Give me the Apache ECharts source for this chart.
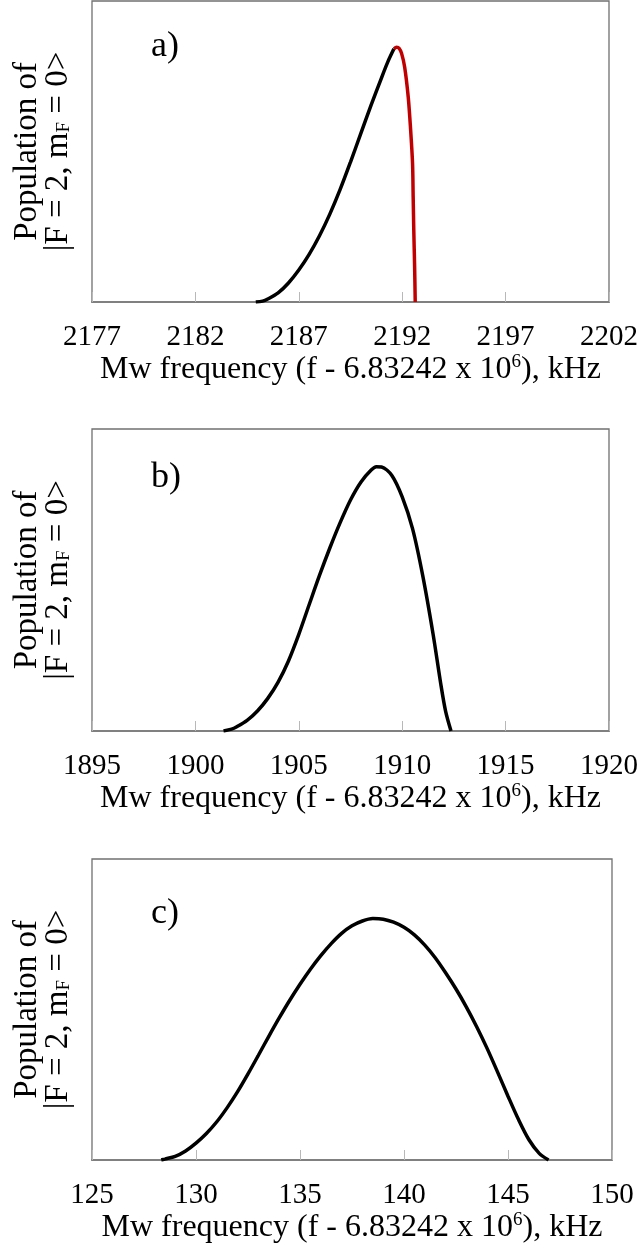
<!DOCTYPE html>
<html>
<head>
<meta charset="utf-8">
<script src="https://cdn.jsdelivr.net/npm/echarts@6/dist/echarts.min.js"></script>
<style>
html,body{margin:0;padding:0;background:#fff;}
#chart{width:641px;height:1253px;}
</style>
</head>
<body>
<div id="chart"></div>
<script>
// ---- Data ----
const panelLabels = ['a)', 'b)', 'c)'];

const ticksA = [2177, 2182, 2187, 2192, 2197, 2202];
const ticksB = [1895, 1900, 1905, 1910, 1915, 1920];
const ticksC = [125, 130, 135, 140, 145, 150];

// Panel a: rising part (black)
const freqA_rise = [2184.92, 2185.25, 2185.5, 2186, 2186.5, 2187, 2187.5, 2188, 2188.5, 2189, 2189.5, 2190, 2190.5, 2191, 2191.3, 2191.6];
const popA_rise  = [0, 0.003, 0.010, 0.030, 0.063, 0.106, 0.158, 0.220, 0.292, 0.374, 0.465, 0.560, 0.655, 0.745, 0.797, 0.841];
// Panel a: falling part (red)
const freqA_fall = [2191.60, 2191.73, 2191.85, 2191.97, 2192.12, 2192.29, 2192.40, 2192.50, 2192.53, 2192.56, 2192.60, 2192.63];
const popA_fall  = [0.841, 0.846, 0.843, 0.826, 0.78, 0.682, 0.58, 0.461, 0.35, 0.239, 0.12, 0];

// Panel b
const freqB = [1901.36, 1901.75, 1902, 1902.5, 1903, 1903.5, 1904, 1904.5, 1905, 1905.5, 1906, 1906.5, 1907, 1907.5, 1908, 1908.5, 1908.75, 1909, 1909.5, 1910, 1910.5, 1911, 1911.5, 1911.86, 1912.1, 1912.36];
const popB  = [0, 0.006, 0.014, 0.035, 0.066, 0.108, 0.162, 0.232, 0.320, 0.418, 0.515, 0.606, 0.690, 0.765, 0.824, 0.864, 0.875, 0.874, 0.846, 0.775, 0.670, 0.512, 0.318, 0.158, 0.065, 0];

// Panel c
const freqC = [128.33, 128.5, 129, 129.5, 130, 130.5, 131, 131.5, 132, 132.5, 133, 133.5, 134, 134.5, 135, 135.5, 136, 136.5, 137, 137.5, 138, 138.5, 139, 139.5, 140, 140.5, 141, 141.5, 142, 142.5, 143, 143.5, 144, 144.5, 145, 145.5, 146, 146.5, 146.95];
const popC  = [0, 0.003, 0.012, 0.030, 0.056, 0.088, 0.127, 0.174, 0.227, 0.286, 0.348, 0.411, 0.472, 0.530, 0.584, 0.634, 0.679, 0.719, 0.753, 0.778, 0.794, 0.802, 0.800, 0.790, 0.773, 0.748, 0.714, 0.672, 0.622, 0.568, 0.508, 0.442, 0.370, 0.292, 0.212, 0.135, 0.068, 0.022, 0];

// ---- Helpers ----
const FONT = 'Liberation Serif';
const zip = (xs, ys) => xs.map((x, i) => [x, ys[i]]);

const grids = [
  {left: 92, right: 29, top: 1, height: 301},
  {left: 92, right: 29, top: 429, height: 302},
  {left: 92, right: 29, top: 859, height: 301}
];
const tickSets = [ticksA, ticksB, ticksC];

const xName = 'Mw frequency (f - 6.83242 x 10{sup|6}), kHz';
const yName = 'Population of\n|F = 2, m{sub|F} = 0>';

const lineSeries = (xi, xs, ys, color) => ({
  type: 'line', xAxisIndex: xi, yAxisIndex: xi, data: zip(xs, ys),
  showSymbol: false, smooth: 0.3, lineStyle: {color: color, width: 3.5}
});

const option = {
  backgroundColor: '#fff',
  animation: false,
  grid: grids.map(g => Object.assign({show: true, borderColor: '#707070', borderWidth: 1.3, backgroundColor: 'transparent'}, g)),
  xAxis: tickSets.map((t, i) => ({
    type: 'value', gridIndex: i,
    min: t[0], max: t[t.length - 1],
    name: xName, nameLocation: 'middle', nameGap: 51,
    nameTextStyle: {
      fontFamily: FONT, fontSize: 32, color: '#000', lineHeight: 34,
      rich: {sup: {fontFamily: FONT, fontSize: 19, lineHeight: 15, verticalAlign: 'top', color: '#000'}}
    },
    axisLine: {show: true, lineStyle: {color: '#808080', width: 2}},
    axisTick: {show: true, inside: true, length: 10, customValues: t, lineStyle: {color: '#b8b8b8', width: 1}},
    axisLabel: {customValues: t, fontFamily: FONT, fontSize: 29, color: '#000', margin: 21, formatter: v => String(v)},
    splitLine: {show: false}
  })),
  yAxis: tickSets.map((t, i) => ({
    type: 'value', gridIndex: i, min: 0, max: 1,
    name: yName, nameLocation: 'middle', nameGap: 18,
    nameTextStyle: {
      fontFamily: FONT, fontSize: 33, color: '#000', lineHeight: 31,
      rich: {sub: {fontFamily: FONT, fontSize: 19, lineHeight: 13, verticalAlign: 'bottom', color: '#000'}}
    },
    axisLine: {show: false}, axisTick: {show: false}, axisLabel: {show: false}, splitLine: {show: false}
  })),
  graphic: [
    {type: 'text', x: 151, y: 47, style: {text: panelLabels[0], font: '36px "Liberation Serif"', fill: '#000', verticalAlign: 'middle'}},
    {type: 'text', x: 151, y: 478, style: {text: panelLabels[1], font: '36px "Liberation Serif"', fill: '#000', verticalAlign: 'middle'}},
    {type: 'text', x: 151, y: 914, style: {text: panelLabels[2], font: '36px "Liberation Serif"', fill: '#000', verticalAlign: 'middle'}}
  ],
  series: [
    Object.assign(lineSeries(0, freqA_rise, popA_rise, '#000'), {z: 3}),
    Object.assign(lineSeries(0, freqA_fall, popA_fall, '#c00000'), {z: 4}),
    lineSeries(1, freqB, popB, '#000'),
    lineSeries(2, freqC, popC, '#000')
  ]
};

const chart = echarts.init(document.getElementById('chart'), null, {renderer: 'canvas'});
chart.setOption(option);
</script>
</body>
</html>
